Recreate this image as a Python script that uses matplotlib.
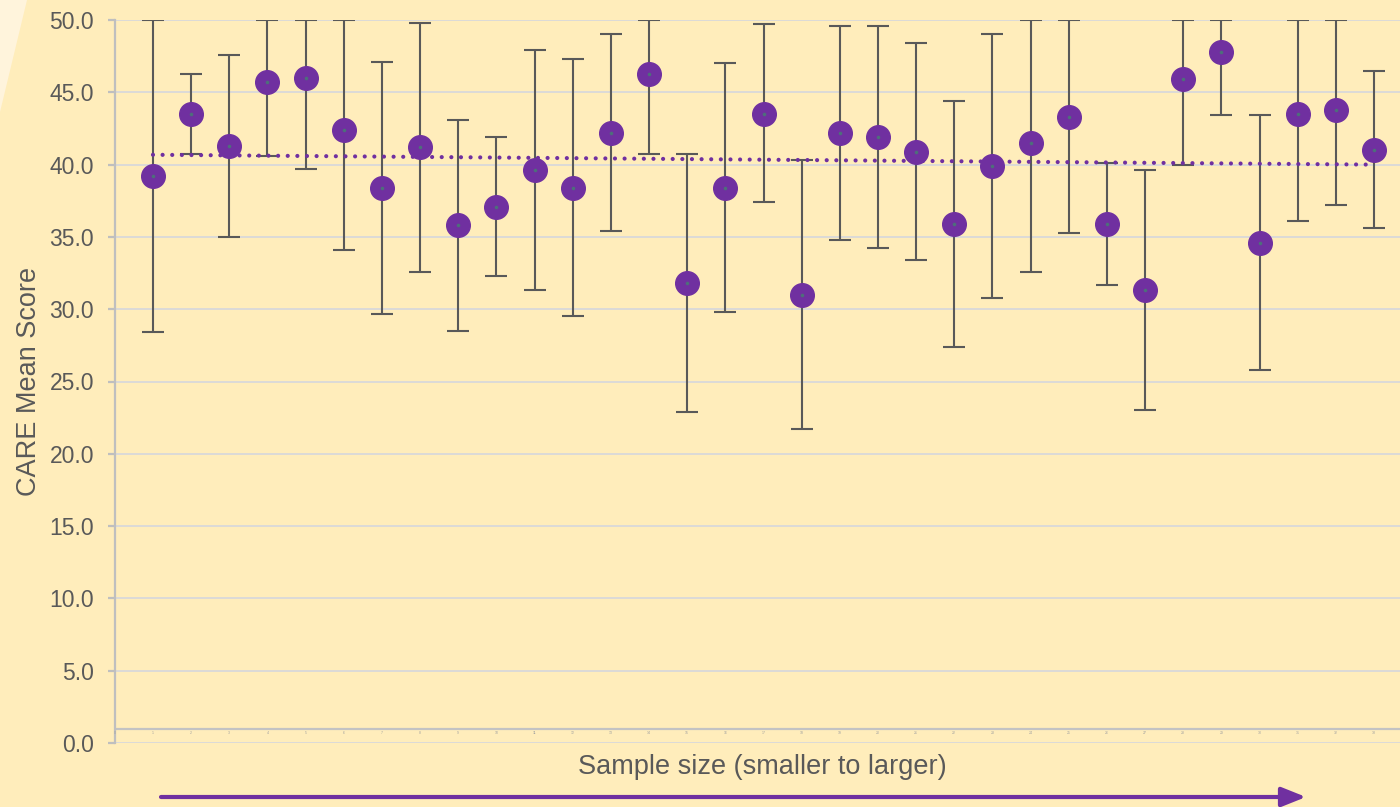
import numpy as np
import matplotlib
matplotlib.use("Agg")
import matplotlib.pyplot as plt
from matplotlib.patches import Polygon, FancyArrowPatch

plt.rcParams['font.family'] = ['Liberation Sans', 'DejaVu Sans']

# =========================
# data
# =========================
samples = list(range(1, 34))
means = [39.2, 43.5, 41.3, 45.7, 46.0, 42.4, 38.4, 41.2, 35.8, 37.1, 39.6,
         38.4, 42.2, 46.3, 31.8, 38.4, 43.5, 31.0, 42.2, 41.9, 40.9, 35.9,
         39.9, 41.5, 43.3, 35.9, 31.3, 45.9, 47.8, 34.6, 43.5, 43.8, 41.0]
upper = [50.0, 46.3, 47.6, 50.0, 50.0, 50.0, 47.1, 49.8, 43.1, 41.9, 47.9,
         47.3, 49.0, 50.0, 40.7, 47.0, 49.7, 40.3, 49.6, 49.6, 48.4, 44.4,
         49.0, 50.0, 50.0, 40.1, 39.6, 50.0, 50.0, 43.4, 50.0, 50.0, 46.5]
lower = [28.4, 40.7, 35.0, 40.6, 39.7, 34.1, 29.7, 32.6, 28.5, 32.3, 31.3,
         29.5, 35.4, 40.7, 22.9, 29.8, 37.4, 21.7, 34.8, 34.2, 33.4, 27.4,
         30.8, 32.6, 35.3, 31.7, 23.0, 40.0, 43.4, 25.8, 36.1, 37.2, 35.6]
y_ticks = [0, 5, 10, 15, 20, 25, 30, 35, 40, 45, 50]

BG = "#FFEDBB"
PURPLE = "#7030A0"
GRAY_TXT = "#595959"

fig = plt.figure(figsize=(14, 8.07), dpi=100, facecolor=BG)

# lighter decoration in the top-left corner
fig.add_artist(Polygon([(0, 1), (27 / 1400, 1), (0, 1 - 112 / 807)], closed=True,
                       transform=fig.transFigure, facecolor="#FFF4DC",
                       edgecolor="none", zorder=0))

ax = fig.add_axes([114.8 / 1400, 64 / 807, 1285.2 / 1400, 723 / 807])
ax.set_facecolor("none")

x = np.array(samples)
m = np.array(means)
err = [m - np.array(lower), np.array(upper) - m]

ax.errorbar(x, m, yerr=err, fmt="none", ecolor=GRAY_TXT, elinewidth=1.5,
            capsize=8, capthick=1.5, zorder=3)

# linear trend line
k, b = np.polyfit(x, m, 1)
ax.plot([x[0], x[-1]], [k * x[0] + b, k * x[-1] + b], color=PURPLE, lw=3.0,
        linestyle=(0, (0.01, 2.3)), dash_capstyle="round", zorder=4)

ax.plot(x, m, "o", ms=17, color=PURPLE, mec=PURPLE, zorder=5)
ax.plot(x, m, "o", ms=2.6, color="#4E6E7B", mec="none", zorder=6)

ax.set_xlim(0, 1285.2 / 38.16)
ax.set_ylim(0, 50)
ax.set_yticks(y_ticks)
ax.set_yticklabels([f"{v:.1f}" for v in y_ticks])
ax.grid(axis="y", color="#D9D9D9", lw=1.3, zorder=1)
ax.set_axisbelow(True)

for s in ["top", "right", "bottom"]:
    ax.spines[s].set_visible(False)
ax.spines["left"].set_color("#BFBFBF")
ax.spines["left"].set_linewidth(1.6)
ax.tick_params(axis="y", length=5, width=1.6, color="#BFBFBF",
               labelsize=16.5, labelcolor=GRAY_TXT, pad=10)
ax.set_xticks([])

# category axis line sits a little above zero, with tiny labels
ax.axhline(0.97, color="#C3C3C3", lw=1.6, zorder=2)
for s in [0] + samples:
    ax.text(s, 0.72, str(s), fontsize=2.5, color="#A0A0A0",
            ha="center", va="center")

ax.set_ylabel("CARE Mean Score", fontsize=19.5, color=GRAY_TXT, labelpad=5)
fig.text(762 / 1400, 1 - 767 / 807, "Sample size (smaller to larger)",
         fontsize=19.5, color=GRAY_TXT, ha="center", va="center")

fig.add_artist(FancyArrowPatch((161 / 1400, 1 - 797 / 807), (1306 / 1400, 1 - 797 / 807),
                               transform=fig.transFigure,
                               arrowstyle="-|>,head_length=1.05,head_width=0.42",
                               mutation_scale=14, color=PURPLE, lw=3,
                               shrinkA=0, shrinkB=0))

fig.savefig("out.png", dpi=100, facecolor=BG)
